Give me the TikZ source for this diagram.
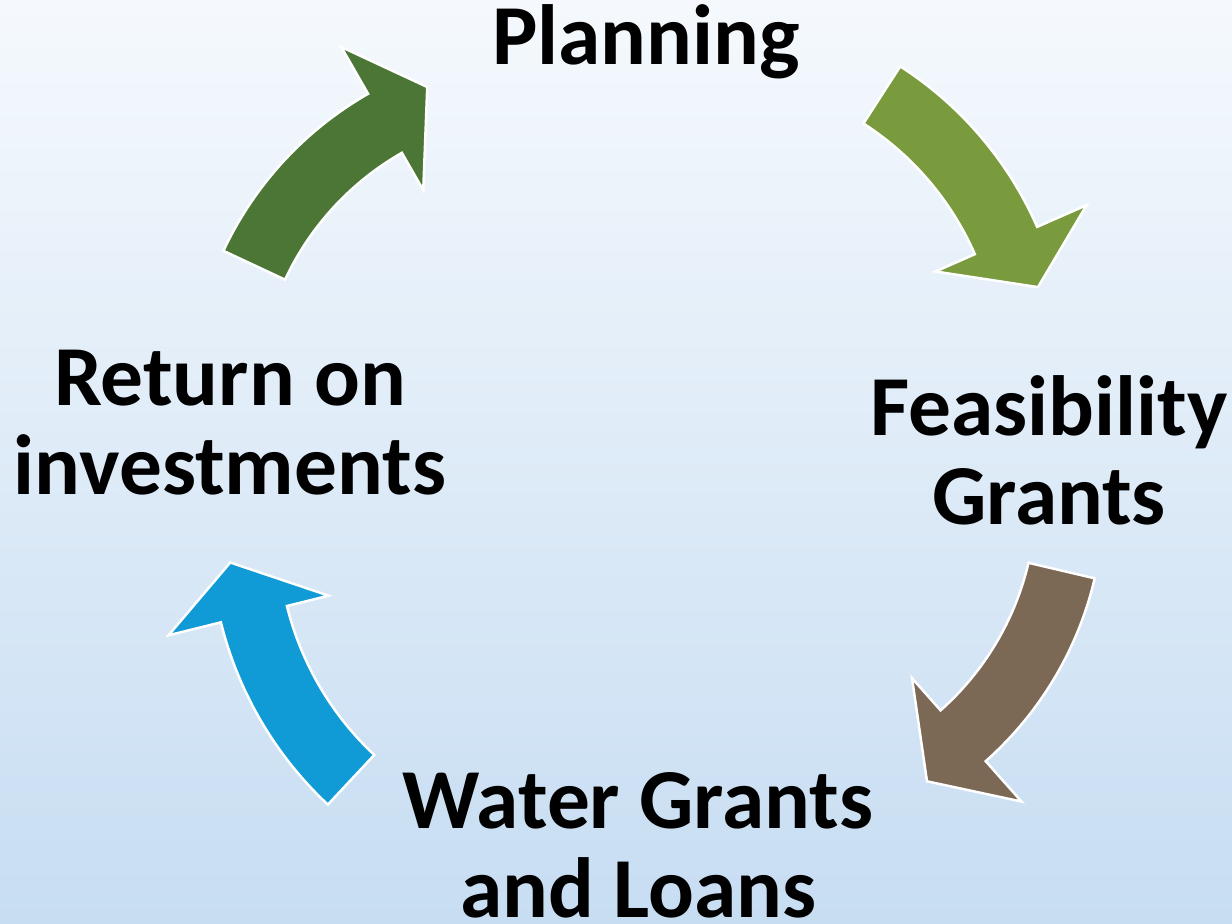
\documentclass[tikz,border=0pt]{standalone}
\usepackage{fontspec}
\setmainfont{Carlito}
\usepackage{xcolor}
\usepackage{tikz}

\definecolor{bgtop}{RGB}{245,249,253}
\definecolor{bgbot}{RGB}{199,221,242}
\definecolor{arrgreen}{RGB}{122,154,62}
\definecolor{arrbrown}{RGB}{124,105,85}
\definecolor{arrblue}{RGB}{16,155,214}
\definecolor{arrdkgreen}{RGB}{76,118,54}

\begin{document}
\begin{tikzpicture}[x=0.1mm, y=0.1mm,
    stagetext/.style={font=\fontsize{24.3}{25.6}\selectfont\bfseries, align=center, anchor=base, inner sep=0pt},
    cyclearrow/.style={draw=white, line width=0.7pt, line join=miter}]
  % page and background
  \useasboundingbox (0,0) rectangle (1232,924);
  \shade[top color=bgtop, bottom color=bgbot] (0,0) rectangle (1232,924);
  % stages (base = baseline of the last line)
  \node[stagetext] (plan)  at (646,859) {Planning};
  \node[stagetext] (feas)  at (1049,399) {Feasibility\\Grants};
  \node[stagetext] (water) at (638,6) {Water Grants\\and Loans};
  \node[stagetext] (roi)   at (230,429) {Return on\\investments};
  % curved arrows: centre x/y, mid radius, tail, head, tip angle, colour
  \foreach \cx/\cy/\R/\ta/\ha/\pa/\col in {
      702/550/332/57.2/23.7/14.5/arrgreen,
      752/426/318/-13.2/-48.4/-58.3/arrbrown,
      582/391/338/226.9/193.9/184.8/arrblue,
      544/523/320/154.9/119.8/110.4/arrdkgreen} {
    \coordinate (c-\col) at (\cx,\cy);
    \filldraw[cyclearrow, fill=\col, shift={(c-\col)}]
      (\ta:{\R+34}) arc[start angle=\ta, end angle=\ha, radius=\R+34]
      -- (\ha:{\R+88}) -- (\pa:{\R+15}) -- (\ha:{\R-77})
      -- (\ha:{\R-34}) arc[start angle=\ha, end angle=\ta, radius=\R-34]
      -- cycle;
  }
\end{tikzpicture}
\end{document}
